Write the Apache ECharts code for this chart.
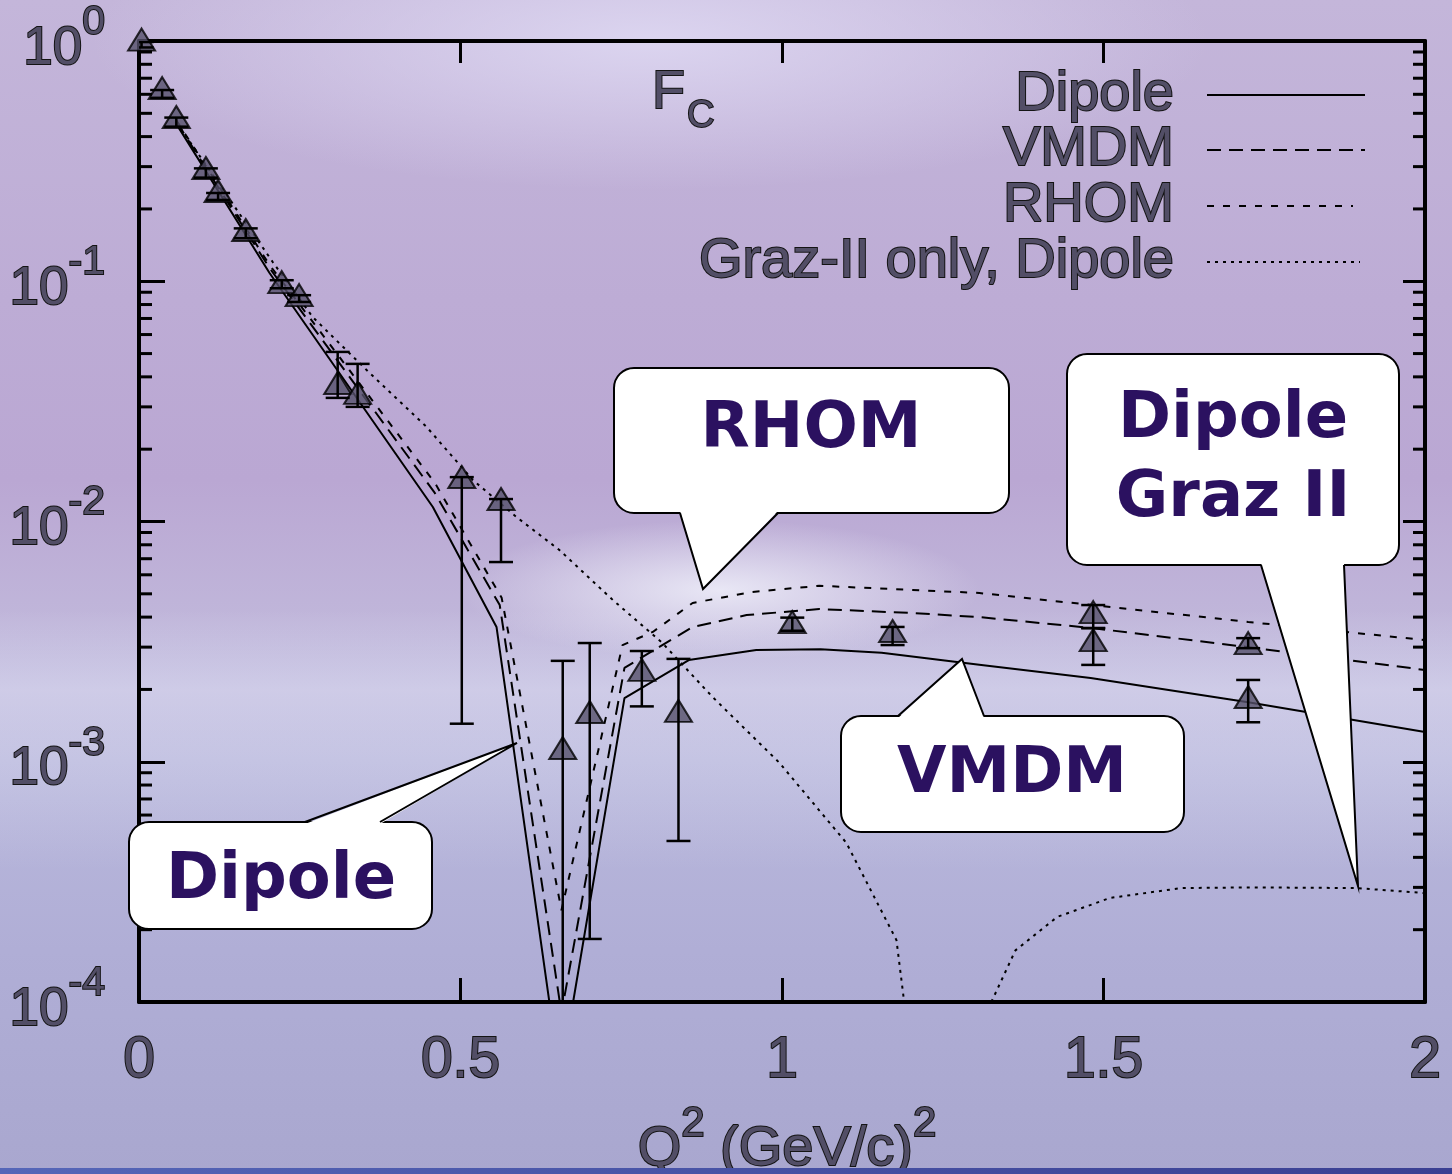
<!DOCTYPE html>
<html><head><meta charset="utf-8">
<script src="https://cdn.jsdelivr.net/npm/echarts@6/dist/echarts.min.js"></script>
<style>
html,body{margin:0;padding:0;width:1452px;height:1174px;overflow:hidden}
#c{width:1452px;height:1174px;
background:
 radial-gradient(ellipse 260px 70px at 720px 590px, rgba(240,240,250,0.85), rgba(240,240,250,0) 100%),
 radial-gradient(ellipse 560px 150px at 650px 40px, rgba(222,216,242,0.9), rgba(222,216,242,0) 100%),
 linear-gradient(180deg, rgba(255,255,255,0) 0px, rgba(255,255,255,0) 610px, rgba(228,228,246,0.45) 690px, rgba(228,228,246,0.25) 770px, rgba(255,255,255,0) 870px),
 linear-gradient(180deg, #c4b6da 0px, #bdacd5 300px, #baa7d3 480px, #c0b6da 620px, #b9b8dc 760px, #b0aed6 950px, #a9a7cf 1174px);
}
</style></head><body><div id="c"></div>
<script>
// ---- measured data (Q^2 in (GeV/c)^2, F_C) ----
const dataQ2 = [0.004, 0.036, 0.058, 0.104, 0.123, 0.166, 0.222, 0.249, 0.309, 0.340, 0.502, 0.563, 0.659, 0.701, 0.782, 0.839, 1.016, 1.172, 1.484, 1.484, 1.725, 1.725];
const dataFc = [0.975, 0.613, 0.4645, 0.285, 0.2286, 0.1573, 0.0955, 0.0843, 0.0363, 0.033, 0.01474, 0.01194, 0.001098, 0.00155, 0.00232, 0.001567, 0.00367, 0.00337, 0.00404, 0.00309, 0.0030, 0.00179];
const dataErrLow = [0.94, 0.58, 0.44, 0.27, 0.218, 0.151, 0.0935, 0.082, 0.0327, 0.030, 0.00144, 0.00678, 0.00005, 0.000183, 0.0017, 0.000468, 0.00351, 0.00306, 0.0036, 0.00253, 0.00297, 0.00146];
const dataErrHigh = [0.99, 0.625, 0.48, 0.295, 0.233, 0.166, 0.101, 0.0875, 0.0508, 0.0453, 0.0153, 0.0124, 0.00263, 0.00312, 0.00289, 0.00268, 0.00398, 0.00364, 0.00449, 0.0036, 0.00327, 0.00219];

// ---- model curves ----
const dipoleQ2 = [0.058, 0.203, 0.457, 0.556, 0.655, 0.755, 0.855, 0.96, 1.06, 1.155, 1.31, 1.48, 1.725, 2.0];
const dipoleFc = [0.452, 0.1082, 0.01149, 0.00364, 0.000048, 0.00184, 0.00265, 0.00292, 0.00294, 0.00284, 0.00253, 0.00223, 0.00177, 0.00133];

const vmdmQ2 = [0.058, 0.203, 0.46, 0.561, 0.657, 0.755, 0.861, 0.945, 1.058, 1.203, 1.307, 1.4825, 1.725, 2.0];
const vmdmFc = [0.462, 0.1135, 0.01315, 0.00449, 0.00009, 0.00246, 0.00364, 0.00408, 0.00432, 0.00416, 0.0040, 0.0036, 0.0030, 0.00241];

const rhomQ2 = [0.058, 0.203, 0.46, 0.564, 0.657, 0.752, 0.799, 0.861, 0.954, 1.058, 1.203, 1.307, 1.4825, 1.725, 2.0];
const rhomFc = [0.468, 0.117, 0.0145, 0.00481, 0.000241, 0.00306, 0.00347, 0.00458, 0.00509, 0.0054, 0.00519, 0.00504, 0.00449, 0.00382, 0.00321];

const grazQ2 = [0.058, 0.208, 0.270, 0.354, 0.4476, 0.519, 0.587, 0.654, 0.737, 0.814, 0.892, 0.996, 1.100, 1.178, 1.190, 1.25, 1.3256, 1.363, 1.428, 1.510, 1.621, 1.730, 1.894, 2.0];
const grazFc = [0.46, 0.1202, 0.071, 0.0427, 0.0247, 0.0149, 0.01044, 0.0076, 0.00471, 0.00312, 0.00186, 0.00099, 0.00046, 0.000181, 0.0001, null, 0.0001, 0.000164, 0.000226, 0.000271, 0.000298, 0.0003, 0.000298, 0.000284];

// ---- tick labels ----
const xTickLabels = ['0', '0.5', '1', '1.5', '2'];
const yTickExponents = ['-4', '-3', '-2', '-1', '0'];
const minorMantissas = [2, 3, 4, 5, 6, 7, 8, 9];
const minorDecades = [1e-4, 1e-3, 1e-2, 1e-1];

const legendNames = ['Dipole', 'VMDM', 'RHOM', 'Graz-II only, Dipole'];

const TXT_FILL = '#524e66', TXT_STROKE = '#141414';
const CALL_COLOR = '#2b1160';

const chart = echarts.init(document.getElementById('c'), null, {renderer: 'canvas'});

function pairs(q, f) { return q.map((x, i) => [x, f[i] === null ? '-' : f[i]]); }

const minorTicks = [];
minorDecades.forEach(d => minorMantissas.forEach(m => minorTicks.push(+(d * m).toPrecision(3))));

function lineSeries(name, q, f, type) {
  return {
    name, type: 'line', data: pairs(q, f), symbol: 'none', showSymbol: false, connectNulls: false,
    clip: true, z: 2, silent: true,
    lineStyle: {color: '#000', width: 2, type: type, cap: 'butt'}
  };
}

function callout(x, y, w, h, tail, lines, cx, cys, tailTop) {
  const els = [];
  els.push({type: 'rect', z: 100, shape: {x, y, width: w, height: h, r: 20},
    style: {fill: '#fff', stroke: '#000', lineWidth: 2}});
  const inset = tailTop ? 2 : -2;
  els.push({type: 'polygon', z: 101, shape: {points: [[tail[0][0], tail[0][1] + inset], tail[1], [tail[2][0], tail[2][1] + inset]]},
    style: {fill: '#fff', stroke: null}});
  els.push({type: 'polyline', z: 102, shape: {points: tail}, style: {fill: null, stroke: '#000', lineWidth: 2}});
  lines.forEach((t, i) => {
    els.push({type: 'text', z: 103, x: cx, y: cys[i], style: {text: t, align: 'center', verticalAlign: 'middle',
      fontFamily: 'DejaVu Sans', fontWeight: 'bold', fontSize: 64, fill: CALL_COLOR}});
  });
  return els;
}

const legendY = [95, 150, 206, 262];
const legendEnd = [1365, 1365, 1353, 1360];
const legendDash = [null, [14, 8], [7, 9], [3, 5]];
const legendEls = [];
legendNames.forEach((n, i) => {
  legendEls.push({type: 'text', z: 100, x: 1174, y: legendY[i], style: {text: n, align: 'right', verticalAlign: 'middle',
    fontFamily: 'Liberation Sans', fontSize: 56, fill: TXT_FILL, stroke: TXT_STROKE, lineWidth: 2}});
  legendEls.push({type: 'line', z: 100, shape: {x1: 1207, y1: legendY[i], x2: legendEnd[i], y2: legendY[i]},
    style: {stroke: '#000', lineWidth: 2, lineDash: legendDash[i] || null}});
});

const richLabel = {
  b: {fontSize: 53, lineHeight: 94, fontFamily: 'Liberation Sans', color: TXT_FILL, textBorderColor: TXT_STROKE, textBorderWidth: 2},
  s: {fontSize: 41, lineHeight: 19, verticalAlign: 'top', fontFamily: 'Liberation Sans', color: TXT_FILL, textBorderColor: TXT_STROKE, textBorderWidth: 2}
};

const axisLine = {show: true, onZero: false, lineStyle: {color: '#000', width: 4}};

const option = {
  animation: false,
  backgroundColor: 'transparent',
  grid: {left: 139, right: 27, top: 41, bottom: 172, containLabel: false},
  xAxis: [
    {type: 'value', min: 0, max: 2, interval: 0.5, position: 'bottom', axisLine,
     axisTick: {show: true, inside: true, length: 24, lineStyle: {color: '#000', width: 3}},
     axisLabel: {show: true, margin: 31, fontSize: 57, fontFamily: 'Liberation Sans', color: TXT_FILL,
       textBorderColor: TXT_STROKE, textBorderWidth: 2, showMinLabel: true, showMaxLabel: true,
       formatter: v => xTickLabels[Math.round(v / 0.5)]},
     splitLine: {show: false}},
    {type: 'value', min: 0, max: 2, interval: 0.5, position: 'top', axisLine,
     axisTick: {show: true, inside: true, length: 22, lineStyle: {color: '#000', width: 3}},
     axisLabel: {show: false}, splitLine: {show: false}}
  ],
  yAxis: [
    {type: 'log', logBase: 10, min: 1e-4, max: 1, position: 'left', axisLine,
     axisTick: {show: true, inside: true, length: 26, lineStyle: {color: '#000', width: 3}},
     axisLabel: {show: true, margin: 34, showMinLabel: true, showMaxLabel: true, padding: [16, 0, 0, 0],
       formatter: v => { const e = Math.round(Math.log10(v)); return '{b|10}{s|' + yTickExponents[e + 4] + '}'; },
       rich: richLabel},
     splitLine: {show: false}},
    {type: 'log', logBase: 10, min: 1e-4, max: 1, position: 'right', axisLine,
     axisTick: {show: true, inside: true, length: 22, lineStyle: {color: '#000', width: 3}},
     axisLabel: {show: false}, splitLine: {show: false}}
  ],
  series: [
    lineSeries('Dipole', dipoleQ2, dipoleFc, 'solid'),
    lineSeries('VMDM', vmdmQ2, vmdmFc, [14, 8]),
    lineSeries('RHOM', rhomQ2, rhomFc, [7, 9]),
    lineSeries('Graz-II only, Dipole', grazQ2, grazFc, [3, 5]),
    {type: 'scatter', name: 'data', z: 3, silent: true,
     data: dataQ2.map((q, i) => [q, dataFc[i]]),
     symbol: 'triangle', symbolSize: [27, 22], symbolOffset: [0, -4],
     itemStyle: {color: '#55506a', borderColor: '#000', borderWidth: 2}},
    {type: 'custom', name: 'errors', z: 4, clip: true, silent: true,
     data: dataQ2.map((q, i) => [q, dataErrLow[i], dataErrHigh[i]]),
     encode: {x: 0, y: [1, 2]},
     renderItem: (params, api) => {
       const x = api.value(0);
       const lo = api.coord([x, api.value(1)]);
       const hi = api.coord([x, api.value(2)]);
       const hw = 12;
       const st = {stroke: '#000', lineWidth: 2.5};
       return {type: 'group', children: [
         {type: 'line', shape: {x1: lo[0], y1: lo[1], x2: hi[0], y2: hi[1]}, style: st},
         {type: 'line', shape: {x1: lo[0] - hw, y1: lo[1], x2: lo[0] + hw, y2: lo[1]}, style: st},
         {type: 'line', shape: {x1: hi[0] - hw, y1: hi[1], x2: hi[0] + hw, y2: hi[1]}, style: st}
       ]};
     }},
    {type: 'custom', name: 'minorTicks', z: 5, silent: true,
     data: minorTicks.map(v => [0, v]),
     renderItem: (params, api) => {
       const v = api.value(1);
       const l = api.coord([0, v]);
       const r = api.coord([2, v]);
       const st = {stroke: '#000', lineWidth: 3};
       return {type: 'group', children: [
         {type: 'line', shape: {x1: l[0], y1: l[1], x2: l[0] + 13, y2: l[1]}, style: st},
         {type: 'line', shape: {x1: r[0], y1: r[1], x2: r[0] - 12, y2: r[1]}, style: st}
       ]};
     }}
  ],
  graphic: [
    ...callout(614, 368, 395, 145, [[680, 513], [703, 589], [778, 513]], ['RHOM'], 811, [430], false),
    ...callout(1067, 354, 332, 211, [[1261, 565], [1358, 886], [1344, 565]], ['Dipole', 'Graz II'], 1233, [420, 499], false),
    ...callout(841, 716, 343, 116, [[898, 716], [962, 659], [984, 716]], ['VMDM'], 1012, [775], true),
    ...callout(129, 822, 303, 107, [[305, 822], [517, 743], [380, 822]], ['Dipole'], 281, [881], true),
    ...legendEls,
    {type: 'text', z: 100, x: 652, y: 93, style: {text: 'F', align: 'left', verticalAlign: 'middle',
      fontFamily: 'Liberation Sans', fontSize: 54, fill: TXT_FILL, stroke: TXT_STROKE, lineWidth: 2}},
    {type: 'text', z: 100, x: 687, y: 117, style: {text: 'C', align: 'left', verticalAlign: 'middle',
      fontFamily: 'Liberation Sans', fontSize: 38, fill: TXT_FILL, stroke: TXT_STROKE, lineWidth: 2}},
    {type: 'text', z: 100, x: 787, y: 1150, style: {text: '{m|Q}{s|2}{m| (GeV/c)}{s|2}', align: 'center', verticalAlign: 'middle',
      rich: {
        m: {fontSize: 56, lineHeight: 94, fontFamily: 'Liberation Sans', fill: TXT_FILL, stroke: TXT_STROKE, lineWidth: 2},
        s: {fontSize: 42, lineHeight: 19, verticalAlign: 'top', fontFamily: 'Liberation Sans', fill: TXT_FILL, stroke: TXT_STROKE, lineWidth: 2}
      }}},
    {type: 'rect', z: 200, shape: {x: 0, y: 1168, width: 1452, height: 6},
      style: {fill: new echarts.graphic.LinearGradient(0, 0, 1, 0, [{offset: 0, color: '#5566b8'}, {offset: 1, color: '#3a3f92'}])}}
  ]
};
chart.setOption(option);
</script></body></html>
